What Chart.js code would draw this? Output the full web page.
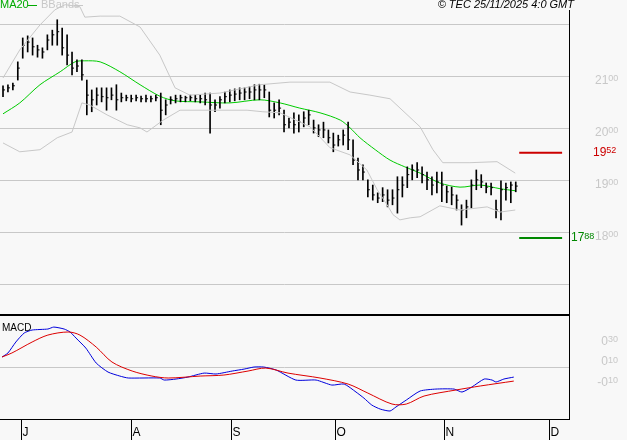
<!DOCTYPE html>
<html><head><meta charset="utf-8">
<script src="https://cdn.jsdelivr.net/npm/chart.js@4.4.1/dist/chart.umd.min.js"></script>
<style>
html,body{margin:0;padding:0;background:#f8f8f8;width:627px;height:440px;overflow:hidden;font-family:"Liberation Sans",Arial,sans-serif}
#c1{position:absolute;left:0;top:0}
#c2{position:absolute;left:0;top:316px}
</style></head><body>
<canvas id="c1" width="627" height="316"></canvas>
<canvas id="c2" width="627" height="124"></canvas>
<script>
// OHLC bars (trading-day index 0 = Jul 1)
const highs=[2081,2083,2086,2127,2173,2177,2173,2159,2154,2179,2188,2208,2192,2179,2146,2131,2131,2092,2073,2077,2077,2077,2077,2083,2067,2063,2063,2063,2061,2063,2061,2063,2067,2054,2060,2063,2063,2061,2063,2063,2063,2067,2067,2054,2060,2069,2073,2075,2077,2077,2079,2083,2084,2083,2069,2048,2054,2034,2019,2029,2025,2031,2034,2015,2006,2011,1996,1990,1986,1996,2011,1977,1942,1929,1900,1890,1875,1885,1881,1881,1906,1906,1925,1929,1933,1925,1915,1906,1915,1915,1888,1886,1871,1852,1861,1900,1919,1910,1894,1894,1861,1898,1894,1896,1896];
const lows=[2060,2069,2073,2092,2134,2146,2140,2136,2134,2150,2159,2159,2140,2121,2102,2108,2092,2025,2031,2044,2050,2034,2054,2034,2050,2052,2050,2052,2050,2050,2050,2052,2006,2025,2046,2048,2050,2050,2052,2050,2048,2044,1990,2031,2038,2048,2050,2052,2054,2054,2056,2054,2054,2058,2021,2019,2025,1992,2000,1990,1992,2002,2006,1990,1983,1981,1971,1954,1965,1967,1958,1929,1900,1900,1867,1861,1856,1858,1848,1852,1836,1867,1885,1900,1904,1894,1881,1871,1875,1858,1856,1852,1842,1813,1827,1846,1881,1885,1875,1871,1827,1823,1861,1856,1877];
const closes=[2073,2077,2081,2115,2159,2165,2156,2150,2146,2169,2179,2185,2154,2140,2115,2119,2102,2063,2054,2063,2060,2058,2063,2054,2058,2058,2056,2058,2056,2056,2056,2058,2034,2044,2054,2056,2058,2058,2058,2056,2056,2054,2044,2044,2054,2060,2063,2065,2067,2069,2069,2073,2073,2073,2034,2034,2038,2006,2011,2006,2011,2019,2025,2000,1996,1996,1981,1967,1977,1986,1977,1938,1919,1915,1881,1871,1865,1871,1861,1865,1881,1890,1910,1919,1919,1910,1900,1890,1896,1890,1877,1871,1861,1842,1848,1890,1900,1896,1886,1885,1842,1881,1885,1890,1888];
const ma20=[[0,2027],[3.4,2048],[7.5,2083],[11.6,2108],[14.6,2127],[16.6,2129],[19.7,2127],[23.7,2108],[27.8,2083],[31.8,2061],[34.9,2052],[40,2050],[46,2048],[52.1,2054],[56.2,2048],[60.2,2038],[64.3,2029],[68.4,2015],[70.4,2000],[72.4,1981],[75.5,1958],[78.5,1938],[81.5,1925],[84.6,1913],[88.6,1894],[92.7,1886],[96.8,1890],[100.8,1883],[103.9,1879]];
const bbUpper=[[0,2096],[3.4,2150],[7.5,2198],[10.5,2227],[12.6,2237],[15.6,2233],[16.6,2213],[19.7,2215],[23.7,2215],[27.8,2194],[31.8,2140],[34.9,2077],[37.9,2063],[44,2067],[52.1,2083],[58.2,2088],[66.3,2088],[70.4,2069],[74.4,2063],[78.5,2056],[84.6,2002],[87.2,1958],[89.2,1933],[94.7,1933],[100.2,1935],[103.9,1913]];
const bbLower=[[0,1971],[3.4,1954],[7.5,1958],[11,1981],[14,1992],[16,2048],[17.6,2044],[21.1,2025],[25.2,2006],[27.8,2000],[29.2,1992],[32.5,2015],[35.9,2034],[42,2034],[49.5,2034],[52.7,2031],[56.2,2029],[62.3,2002],[66.3,1962],[70.4,1948],[73.8,1919],[75.9,1881],[77.9,1852],[79.1,1833],[80.5,1823],[82.6,1827],[84.6,1829],[88.6,1850],[92.7,1842],[98.2,1848],[100.8,1838],[103.9,1842]];
const macdLine=[[-0.2,0.198],[1,0.237],[2.6,0.344],[4.3,0.432],[5.9,0.461],[9.1,0.471],[10.3,0.490],[12.4,0.471],[13.6,0.442],[14.8,0.383],[16.8,0.285],[18.9,0.139],[21.3,0.051],[23.7,0.012],[25.4,-0.007],[31.8,-0.007],[32.7,-0.027],[35.1,-0.017],[37.5,0.002],[40.8,0.041],[43.2,0.032],[46.5,0.061],[48.9,0.080],[50.9,0.100],[52.9,0.100],[55.4,0.071],[59.4,-0.027],[63.5,-0.027],[66.7,-0.076],[69.2,-0.066],[71.6,-0.144],[73.2,-0.203],[74.8,-0.271],[76.5,-0.310],[78.5,-0.329],[79.7,-0.290],[81.8,-0.222],[84.6,-0.134],[87.8,-0.115],[91.5,-0.115],[93.1,-0.144],[95.1,-0.095],[97.6,-0.017],[99.2,-0.027],[100,-0.046],[101.6,-0.017],[103.6,0.002]];
const macdSignal=[[-0.2,0.198],[1.8,0.237],[5.9,0.344],[9.1,0.412],[13.2,0.442],[15.6,0.412],[18.9,0.295],[22.1,0.149],[26.2,0.061],[30.2,0.012],[33.5,-0.007],[40,0.012],[44.8,0.022],[49.7,0.061],[53.3,0.090],[57.8,0.041],[64.3,-0.007],[70,-0.066],[74,-0.154],[78.9,-0.261],[81.8,-0.261],[85.4,-0.183],[91.9,-0.124],[96.8,-0.085],[103.6,-0.037]];
const monthLabels=["J","A","S","O","N","D"];
const monthPos=[3.65,26,46.2,67.3,89.5,110.8];
const priceTicks=[2200,2100,2000,1900,1800,1700];
const priceLabels=[["",""],["21","00"],["20","00"],["19","00"],["18","00"],["",""]];
const macdTicks=[0.30,0.10,-0.10];
const macdLabels=[["0","30"],["0","10"],["-0","10"]];
const resistance=1952, support=1788;

const F='"Liberation Sans",Arial,sans-serif';
function split(ctx,x,y,a,b,col,size){
  ctx.fillStyle=col;ctx.textBaseline='middle';ctx.textAlign='left';
  ctx.font=size+'px '+F;ctx.fillText(a,x,y);
  const w=ctx.measureText(a).width;ctx.font=(size-3)+'px '+F;ctx.fillText(b,x+w,y-2);
}
const pts=a=>a.map(p=>({x:p[0],y:p[1]}));
const bg={id:'bg',beforeDraw(c){const x=c.ctx;x.save();x.fillStyle='#f8f8f8';x.fillRect(0,0,c.width,c.height);x.restore();}};

const mainPlug={id:'mainPlug',
 beforeDatasetsDraw(c){const ctx=c.ctx,ys=c.scales.y;ctx.save();ctx.strokeStyle='#c8c8c8';ctx.lineWidth=1;
  priceTicks.forEach(t=>{const y=Math.round(ys.getPixelForValue(t))+0.5;ctx.beginPath();ctx.moveTo(0,y);ctx.lineTo(569,y);ctx.stroke();});ctx.restore();},
 afterDatasetsDraw(c){const ctx=c.ctx,xs=c.scales.x,ys=c.scales.y;ctx.save();
  [[resistance,'#cc0000'],[support,'#008800']].forEach(([v,col])=>{const y=ys.getPixelForValue(v);ctx.strokeStyle=col;ctx.lineWidth=2;ctx.beginPath();ctx.moveTo(xs.getPixelForValue(104.7),y);ctx.lineTo(xs.getPixelForValue(113.4),y);ctx.stroke();});
  ctx.strokeStyle='#000';ctx.lineWidth=1;ctx.beginPath();ctx.moveTo(569.5,10);ctx.lineTo(569.5,316);ctx.stroke();
  ctx.lineWidth=2;ctx.beginPath();ctx.moveTo(0,315);ctx.lineTo(570,315);ctx.stroke();
  priceTicks.forEach((t,i)=>{if(priceLabels[i][0])split(ctx,595,ys.getPixelForValue(t)+5,priceLabels[i][0],priceLabels[i][1],'#c8c8c8',12);});
  split(ctx,593,ys.getPixelForValue(resistance),'19','52','#cc0000',12);
  split(ctx,571,ys.getPixelForValue(support),'17','88','#008800',12);
  ctx.font='11px '+F;ctx.textBaseline='middle';ctx.textAlign='left';
  ctx.fillStyle='#00aa00';ctx.fillText('MA20',0,5);ctx.fillRect(28,5,9,1);
  ctx.fillStyle='#c8c8c8';ctx.fillText('BBands',41,5);ctx.fillRect(74,5,9,1);
  ctx.fillStyle='#000';ctx.font='italic 11px '+F;ctx.textAlign='right';ctx.fillText('© TEC 25/11/2025 4:0 GMT',574,5);
  ctx.restore();}};

new Chart(document.getElementById('c1'),{
 data:{datasets:[
  {type:'line',data:pts(bbUpper),borderColor:'#c8c8c8',borderWidth:1,pointRadius:0,tension:0},
  {type:'line',data:pts(bbLower),borderColor:'#c8c8c8',borderWidth:1,pointRadius:0,tension:0},
  {type:'bar',data:highs.map((h,i)=>({x:i,y:[lows[i],h]})),backgroundColor:'#000',barThickness:1,borderWidth:0},
  {type:'scatter',data:closes.map((v,i)=>({x:i,y:v})),pointStyle:'dash',pointRadius:2,borderColor:'#000',borderWidth:1,backgroundColor:'#000'},
  {type:'line',data:pts(ma20),borderColor:'#00cc00',borderWidth:1,pointRadius:0,tension:0.3}
 ]},
 options:{responsive:false,animation:false,devicePixelRatio:1,layout:{autoPadding:false,padding:{left:0,right:58,top:0,bottom:1}},
  plugins:{legend:{display:false},tooltip:{enabled:false}},
  scales:{x:{type:'linear',display:false,offset:false,min:-0.61,max:114.8},y:{display:false,min:1640,max:2246}}},
 plugins:[bg,mainPlug]});

const macdPlug={id:'macdPlug',
 beforeDatasetsDraw(c){const ctx=c.ctx,ys=c.scales.y;ctx.save();ctx.strokeStyle='#c8c8c8';ctx.lineWidth=1;const y=Math.round(ys.getPixelForValue(0.10))+0.5;ctx.beginPath();ctx.moveTo(0,y);ctx.lineTo(569,y);ctx.stroke();ctx.restore();},
 afterDatasetsDraw(c){const ctx=c.ctx,xs=c.scales.x,ys=c.scales.y;ctx.save();
  ctx.strokeStyle='#000';ctx.lineWidth=1;ctx.beginPath();ctx.moveTo(569.5,0);ctx.lineTo(569.5,104);ctx.moveTo(0,103.5);ctx.lineTo(570,103.5);ctx.stroke();
  monthPos.forEach((m,i)=>{const x=Math.round(xs.getPixelForValue(m))+0.5;ctx.beginPath();ctx.moveTo(x,104);ctx.lineTo(x,124);ctx.stroke();
   ctx.fillStyle='#000';ctx.font='12px '+F;ctx.textAlign='left';ctx.textBaseline='middle';ctx.fillText(monthLabels[i],x+1,117);});
  macdTicks.forEach((t,i)=>{const y=ys.getPixelForValue(t)-5;const [a,b]=macdLabels[i];ctx.font='12px '+F;const w=ctx.measureText(a).width;split(ctx,608-w,y,a,b,'#c8c8c8',12);});
  ctx.fillStyle='#000';ctx.font='10px '+F;ctx.textAlign='left';ctx.textBaseline='middle';ctx.fillText('MACD',2,12);
  ctx.restore();}};

new Chart(document.getElementById('c2'),{
 data:{datasets:[
  {type:'line',data:pts(macdSignal),borderColor:'#dd0000',borderWidth:1,pointRadius:0,tension:0.3},
  {type:'line',data:pts(macdLine),borderColor:'#0000dd',borderWidth:1,pointRadius:0,tension:0.2}
 ]},
 options:{responsive:false,animation:false,devicePixelRatio:1,layout:{autoPadding:false,padding:{left:0,right:58,top:0,bottom:21}},
  plugins:{legend:{display:false},tooltip:{enabled:false}},
  scales:{x:{type:'linear',display:false,offset:false,min:-0.61,max:114.8},y:{display:false,min:-0.407,max:0.598}}},
 plugins:[bg,macdPlug]});
</script></body></html>
